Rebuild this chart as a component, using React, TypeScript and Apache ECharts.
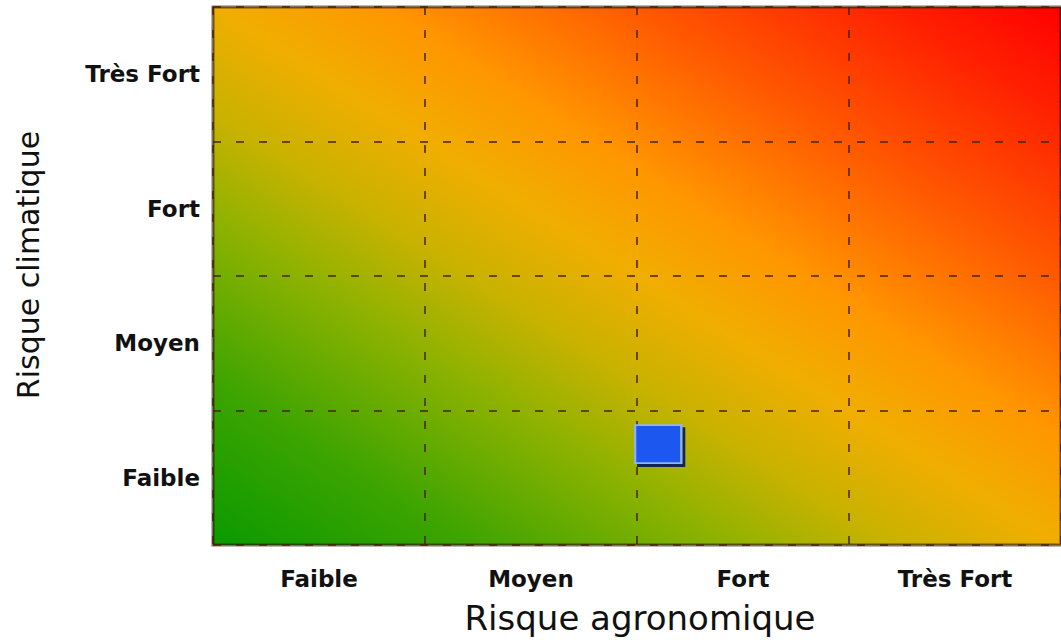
import React, { useEffect, useRef } from "react";
import * as echarts from "echarts";

const agroCategories = ["Faible", "Moyen", "Fort", "Très Fort"];
const climCategories = ["Faible", "Moyen", "Fort", "Très Fort"];
// position of the evaluated plot on a continuous 0–4 scale (agronomic, climatic)
const riskPoint = [2.1, 0.75];
const xTitle = "Risque agronomique";
const yTitle = "Risque climatique";

export default function App() {
  const ref = useRef<HTMLDivElement>(null);
  useEffect(() => {
    if (!ref.current) return;
    const chart = echarts.init(ref.current, undefined, { renderer: "svg" });
    const splitLine = {
      show: true,
      lineStyle: { color: "rgba(70,35,0,0.75)", width: 2, type: [8, 15] as any },
    };
    const labelStyle = {
      color: "#111",
      fontFamily: "DejaVu Sans",
      fontWeight: "bold" as const,
      fontSize: 23,
    };
    chart.setOption({
      animation: false,
      grid: {
        left: 213,
        top: 7,
        right: 0,
        bottom: 95,
        show: true,
        backgroundColor: new echarts.graphic.LinearGradient(0, 1, 1, 0, [
          { offset: 0, color: "#0a9a00" },
          { offset: 0.15, color: "#3ca400" },
          { offset: 0.3, color: "#8cb200" },
          { offset: 0.4, color: "#c8b200" },
          { offset: 0.5, color: "#f0ae00" },
          { offset: 0.6, color: "#ff9600" },
          { offset: 0.75, color: "#ff5800" },
          { offset: 0.9, color: "#ff2000" },
          { offset: 1, color: "#ff0000" },
        ]),
        borderColor: "rgba(40,20,0,0.6)",
        borderWidth: 3,
      },
      xAxis: [
        {
          type: "category",
          data: agroCategories,
          boundaryGap: true,
          axisLine: { show: false },
          axisTick: { show: false },
          axisLabel: { ...labelStyle, margin: 22 },
          splitLine,
        },
        { type: "value", min: 0, max: 4, show: false },
      ],
      yAxis: [
        {
          type: "category",
          data: climCategories,
          boundaryGap: true,
          axisLine: { show: false },
          axisTick: { show: false },
          axisLabel: { ...labelStyle, margin: 13 },
          splitLine,
        },
        { type: "value", min: 0, max: 4, show: false },
      ],
      series: [
        {
          type: "scatter",
          xAxisIndex: 1,
          yAxisIndex: 1,
          data: [riskPoint],
          symbol: "rect",
          symbolSize: [46, 38],
          itemStyle: {
            color: "#1b58f0",
            borderColor: "#8fb2ff",
            borderWidth: 2,
            shadowColor: "rgba(0,25,90,0.9)",
            shadowOffsetX: 3,
            shadowOffsetY: 3,
            shadowBlur: 1,
            opacity: 1,
          },
        },
      ],
      graphic: [
        {
          type: "text",
          x: 640,
          y: 618,
          style: {
            text: xTitle,
            fill: "#111",
            fontFamily: "DejaVu Sans",
            fontSize: 34,
            align: "center",
            verticalAlign: "middle",
          },
        },
        {
          type: "text",
          x: 28,
          y: 265,
          rotation: Math.PI / 2,
          style: {
            text: yTitle,
            fill: "#111",
            fontFamily: "DejaVu Sans",
            fontSize: 30,
            align: "center",
            verticalAlign: "middle",
          },
        },
      ],
    });
    return () => chart.dispose();
  }, []);
  return (
    <div
      ref={ref}
      style={{ position: "fixed", left: 0, top: 0, width: 1061, height: 640, background: "#fff" }}
    />
  );
}
